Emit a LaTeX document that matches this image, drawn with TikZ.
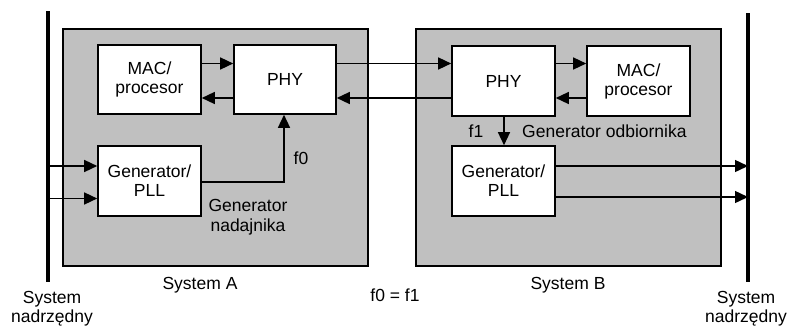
\documentclass[tikz,border=0pt]{standalone}
\usepackage{fontspec}
\setmainfont{Liberation Sans}
\usetikzlibrary{arrows.meta}
\definecolor{sysgray}{HTML}{C0C0C0}
\tikzset{
  sysbox/.style={draw=black, line width=1.6pt, fill=sysgray},
  blk/.style={draw=black, line width=1.6pt, fill=white, align=center, inner sep=0pt,
    font=\fontsize{17.5}{19}\selectfont},
  conn/.style={line width=1.4pt},
  arr/.style={conn, -{Triangle[length=13pt,width=12pt]}},
  bus/.style={line width=4pt},
  lbl/.style={font=\fontsize{17.5}{20}\selectfont, inner sep=0pt},
}
\begin{document}
\begin{tikzpicture}[x=1pt,y=-1pt]
\useasboundingbox (0,0) rectangle (788,327);
% system boxes
\node[sysbox, minimum width=305pt, minimum height=237pt, inner sep=0pt] (sysA) at (215.5,147.5) {};
\node[sysbox, minimum width=305pt, minimum height=237pt, inner sep=0pt] (sysB) at (568.5,147.5) {};
% blocks
\node[blk, minimum width=103pt, minimum height=69pt] (macA) at (149.5,79.5) {MAC/\\procesor};
\node[blk, minimum width=102pt, minimum height=69pt] (phyA) at (285,79.5) {PHY};
\node[blk, minimum width=103pt, minimum height=70pt] (genA) at (149.5,181) {Generator/\\PLL};
\node[blk, minimum width=103pt, minimum height=70pt] (phyB) at (503.5,81) {PHY};
\node[blk, minimum width=103pt, minimum height=70pt] (macB) at (638.5,81) {MAC/\\procesor};
\node[blk, minimum width=103pt, minimum height=70pt] (genB) at (503.5,181) {Generator/\\PLL};
% buses
\coordinate (busLt) at (48,11);
\coordinate (busLb) at (48,282);
\coordinate (busRt) at (748,13);
\coordinate (busRb) at (748,282);
\draw[bus] (busLt) -- (busLb);
\draw[bus] (busRt) -- (busRb);
% row helpers
\coordinate (r63) at (0,63.5);
\coordinate (r98) at (0,98);
\coordinate (r166) at (0,166);
\coordinate (r199) at (0,198.5);
\coordinate (r197) at (0,197);
\coordinate (r182) at (0,182);
\coordinate (cf0) at (284,0);
\coordinate (cf1) at (504,0);
% connectors
\draw[arr] (macA.east |- r63) -- (phyA.west |- r63);
\draw[arr] (phyA.west |- r98) -- (macA.east |- r98);
\draw[arr] (phyA.east |- r63) -- (phyB.west |- r63);
\draw[arr] (phyB.west |- r98) -- (phyA.east |- r98);
\draw[arr] (phyB.east |- r63) -- (macB.west |- r63);
\draw[arr] (macB.west |- r98) -- (phyB.east |- r98);
\draw[arr] (genA.east |- r182) -| (phyA.south -| cf0);
\draw[arr] (phyB.south -| cf1) -- (genB.north -| cf1);
\draw[arr] (busLt |- r166) -- (genA.west |- r166);
\draw[arr] (busLt |- r199) -- (genA.west |- r199);
\draw[arr] (genB.east |- r166) -- (busRt |- r166);
\draw[arr] (genB.east |- r197) -- (busRt |- r197);
% labels
\node[lbl, anchor=base] (lf0) at (301,164) {f0};
\node[lbl, anchor=base] (lf1) at (476,137) {f1};
\node[lbl, anchor=base west] (lgo) at (522,137) {Generator odbiornika};
\node[lbl, anchor=base] (lgn1) at (248,211.5) {Generator};
\node[lbl, anchor=base] (lgn2) at (248,231.5) {nadajnika};
\node[lbl, anchor=base] (lsa) at (200,289) {System A};
\node[lbl, anchor=base] (lsb) at (568,289) {System B};
\node[lbl, anchor=base] (lff) at (395,301.5) {f0 = f1};
\node[lbl, anchor=base] (lsl1) at (52,303) {System};
\node[lbl, anchor=base] (lsl2) at (52,322) {nadrzędny};
\node[lbl, anchor=base] (lsr1) at (746,303) {System};
\node[lbl, anchor=base] (lsr2) at (746,322) {nadrzędny};
\end{tikzpicture}
\end{document}
